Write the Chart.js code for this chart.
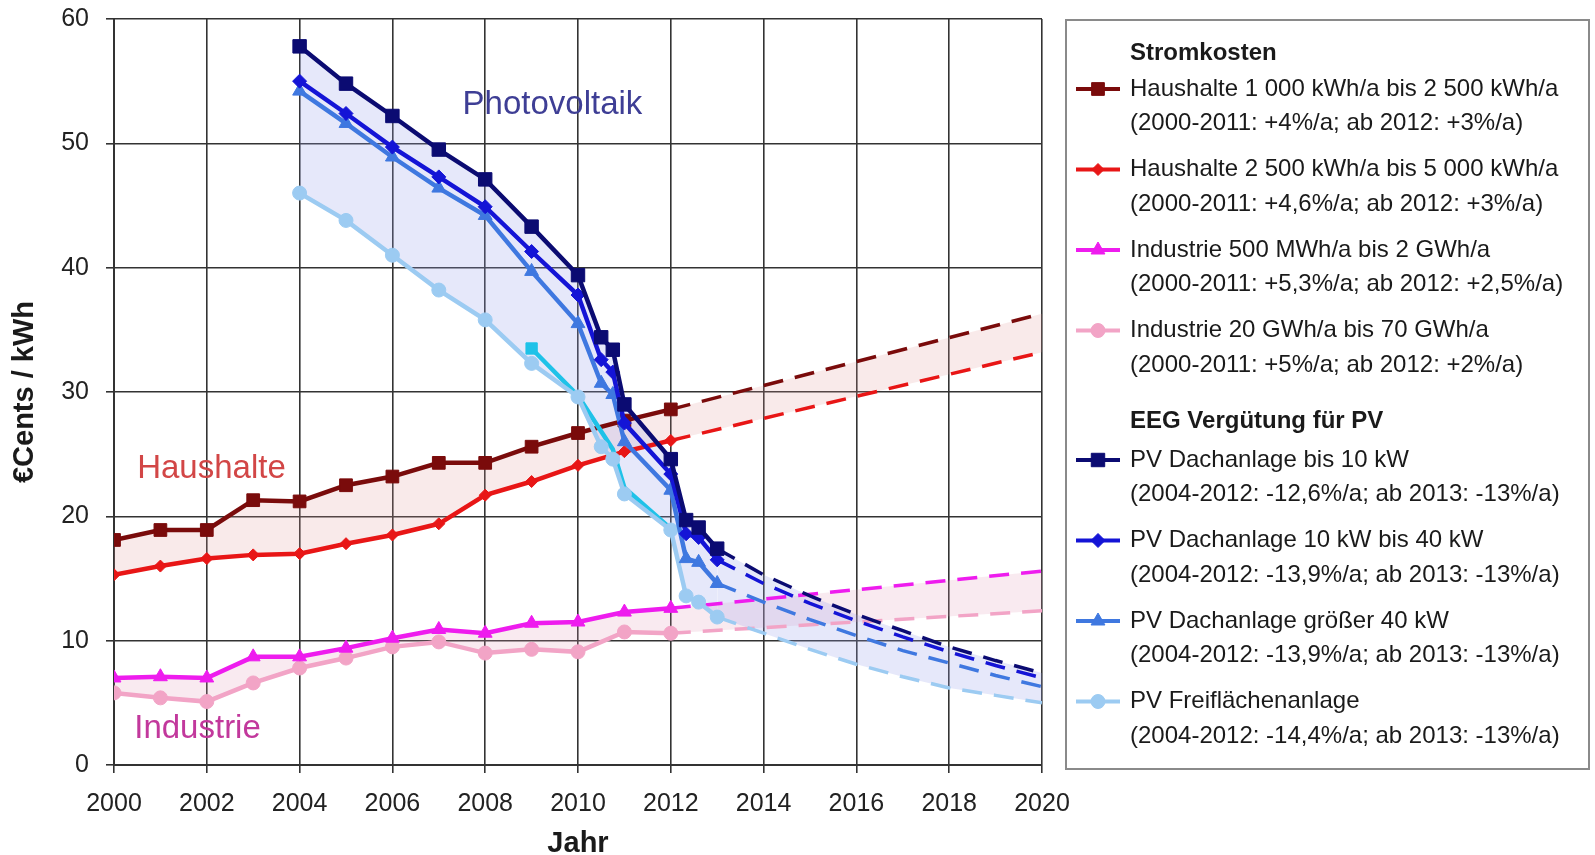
<!DOCTYPE html>
<html>
<head>
<meta charset="utf-8">
<script src="https://cdn.jsdelivr.net/npm/chart.js@4.4.0/dist/chart.umd.min.js"></script>
<style>
  html, body { margin: 0; padding: 0; background: #fff; }
  #wrap { width: 1595px; height: 855px; }
</style>
</head>
<body>
<div id="wrap"><canvas id="strom_chart" width="1595" height="855"></canvas></div>
<script>
// Stromkosten, Istwerte 2000-2012 (€Cents / kWh)
const stromJahre = [2000, 2001, 2002, 2003, 2004, 2005, 2006, 2007, 2008, 2009, 2010, 2011, 2012];
const haushalte1 = [18.1, 18.9, 18.9, 21.3, 21.2, 22.5, 23.2, 24.3, 24.3, 25.6, 26.7, 27.7, 28.6];
const haushalte2 = [15.3, 16.0, 16.6, 16.9, 17.0, 17.8, 18.5, 19.4, 21.7, 22.8, 24.1, 25.2, 26.1];
const industrie1 = [7.0, 7.1, 7.0, 8.7, 8.7, 9.4, 10.2, 10.9, 10.6, 11.4, 11.5, 12.3, 12.6];
const industrie2 = [5.8, 5.4, 5.1, 6.6, 7.8, 8.6, 9.5, 9.9, 9.0, 9.3, 9.1, 10.7, 10.6];

// Stromkosten, Prognose bis 2020
const stromPrognoseJahre = [2020];
const haushalte1Prognose = [36.3];
const haushalte2Prognose = [33.2];
const industrie1Prognose = [15.6];
const industrie2Prognose = [12.4];

// EEG Vergütung PV, 2004-2013
const pvJahre = [2004, 2005, 2006, 2007, 2008, 2009, 2010, 2010.5, 2010.75, 2011, 2012, 2012.33, 2012.6, 2013];
const pvBis10 = [57.8, 54.8, 52.2, 49.5, 47.1, 43.3, 39.4, 34.4, 33.4, 29.0, 24.6, 19.7, 19.1, 17.4];
const pv10bis40 = [55.0, 52.4, 49.7, 47.3, 44.9, 41.3, 37.8, 32.6, 31.6, 27.5, 23.4, 18.6, 18.3, 16.5];
const pvUeber40 = [54.2, 51.6, 48.9, 46.4, 44.2, 39.7, 35.5, 30.7, 29.8, 26.0, 22.1, 16.6, 16.3, 14.6];
const pvFreiflaeche = [46.0, 43.8, 41.0, 38.2, 35.8, 32.3, 29.6, 25.6, 24.6, 21.8, 18.9, 13.6, 13.1, 11.9];

// EEG Vergütung PV, Prognose bis 2020
const pvPrognoseJahre = [2014, 2015, 2016, 2017, 2018, 2019, 2020];
const pvBis10Prognose = [15.3, 13.6, 12.1, 10.8, 9.5, 8.4, 7.4];
const pv10bis40Prognose = [14.6, 13.0, 11.6, 10.3, 9.1, 8.0, 7.0];
const pvUeber40Prognose = [13.1, 11.7, 10.4, 9.2, 8.2, 7.2, 6.3];
const pvFreiflaechePrognose = [10.6, 9.3, 8.1, 7.1, 6.2, 5.6, 5.0];

// Konversionsflächen (ohne Legende)
const konversionJahre = [2009, 2010, 2010.75, 2011, 2012];
const konversion = [33.5, 29.7, 25.4, 22.3, 19.0];

const xTicks = [2000, 2002, 2004, 2006, 2008, 2010, 2012, 2014, 2016, 2018, 2020];
const yTicks = [0, 10, 20, 30, 40, 50, 60];

const legendTitles = ['Stromkosten', 'EEG Vergütung für PV'];
const legendNames = [
    'Haushalte 1 000 kWh/a bis 2 500 kWh/a',
    'Haushalte 2 500 kWh/a bis 5 000 kWh/a',
    'Industrie 500 MWh/a bis 2 GWh/a',
    'Industrie 20 GWh/a bis 70 GWh/a',
    'PV Dachanlage bis 10 kW',
    'PV Dachanlage 10 kW bis 40 kW',
    'PV Dachanlage größer 40 kW',
    'PV Freiflächenanlage'
];
const legendNotes = [
    '(2000-2011: +4%/a; ab 2012: +3%/a)',
    '(2000-2011: +4,6%/a; ab 2012: +3%/a)',
    '(2000-2011: +5,3%/a; ab 2012: +2,5%/a)',
    '(2000-2011: +5%/a; ab 2012: +2%/a)',
    '(2004-2012: -12,6%/a; ab 2013: -13%/a)',
    '(2004-2012: -13,9%/a; ab 2013: -13%/a)',
    '(2004-2012: -13,9%/a; ab 2013: -13%/a)',
    '(2004-2012: -14,4%/a; ab 2013: -13%/a)'
];

const FONT = "'Liberation Sans', Arial, sans-serif";

const styles = {
    haushalte1: { color: '#7a0b0b', pointStyle: 'rect', radius: 9 },
    haushalte2: { color: '#e81616', pointStyle: 'rectRot', radius: 6 },
    industrie1: { color: '#ee1cee', pointStyle: 'triangle', radius: 8 },
    industrie2: { color: '#f2a4c6', pointStyle: 'circle', radius: 7 },
    pvBis10: { color: '#0b0b72', pointStyle: 'rect', radius: 9.5 },
    pv10bis40: { color: '#1414d6', pointStyle: 'rectRot', radius: 7 },
    pvUeber40: { color: '#3f78e0', pointStyle: 'triangle', radius: 8 },
    pvFreiflaeche: { color: '#9ccbf2', pointStyle: 'circle', radius: 7 },
    konversion: { color: '#1fc2e8', pointStyle: 'rect', radius: 8 }
};

const prognoseDash = [20, 12];

function toPoints(xs, ys) {
    return xs.map((x, i) => ({ x: x, y: ys[i] }));
}

function makeDataset(label, style, points, cutoff, fill, fillColor) {
    return {
        label: label,
        data: points,
        borderColor: style.color,
        backgroundColor: fillColor || style.color,
        pointBackgroundColor: style.color,
        pointBorderColor: style.color,
        pointBorderWidth: 1,
        pointStyle: style.pointStyle,
        pointRadius: ctx => (ctx.raw && ctx.raw.x > cutoff) ? 0 : style.radius,
        borderWidth: 4.5,
        fill: fill,
        tension: 0,
        segment: {
            borderDash: ctx => ctx.p0.parsed.x >= cutoff ? prognoseDash : undefined,
            borderWidth: ctx => ctx.p0.parsed.x >= cutoff ? 3.5 : undefined
        }
    };
}

const pvFill = 'rgba(150,160,235,0.24)';
const haushaltFill = 'rgba(225,150,150,0.2)';
const industrieFill = 'rgba(225,150,180,0.2)';

// the first datasets are drawn last, so the PV lines end up on top
const datasets = [
    makeDataset(legendNames[4], styles.pvBis10,
        toPoints(pvJahre.concat(pvPrognoseJahre), pvBis10.concat(pvBis10Prognose)), 2013, 3, pvFill),
    makeDataset(legendNames[5], styles.pv10bis40,
        toPoints(pvJahre.concat(pvPrognoseJahre), pv10bis40.concat(pv10bis40Prognose)), 2013, false),
    makeDataset(legendNames[6], styles.pvUeber40,
        toPoints(pvJahre.concat(pvPrognoseJahre), pvUeber40.concat(pvUeber40Prognose)), 2013, false),
    makeDataset(legendNames[7], styles.pvFreiflaeche,
        toPoints(pvJahre.concat(pvPrognoseJahre), pvFreiflaeche.concat(pvFreiflaechePrognose)), 2013, false),
    makeDataset('Konversionsflächen', styles.konversion,
        toPoints(konversionJahre, konversion), Infinity, false),
    makeDataset(legendNames[0], styles.haushalte1,
        toPoints(stromJahre.concat(stromPrognoseJahre), haushalte1.concat(haushalte1Prognose)), 2012, '+1', haushaltFill),
    makeDataset(legendNames[1], styles.haushalte2,
        toPoints(stromJahre.concat(stromPrognoseJahre), haushalte2.concat(haushalte2Prognose)), 2012, false),
    makeDataset(legendNames[2], styles.industrie1,
        toPoints(stromJahre.concat(stromPrognoseJahre), industrie1.concat(industrie1Prognose)), 2012, '+1', industrieFill),
    makeDataset(legendNames[3], styles.industrie2,
        toPoints(stromJahre.concat(stromPrognoseJahre), industrie2.concat(industrie2Prognose)), 2012, false)
];
// konversion only has a marker at its first point
datasets[4].pointRadius = ctx => (ctx.raw && ctx.raw.x === 2009) ? styles.konversion.radius : 0;

const textLabels = [
    { text: 'Photovoltaik', x: 2009.45, y: 53.1, color: '#3e3e95' },
    { text: 'Haushalte', x: 2002.1, y: 23.8, color: '#d24646' },
    { text: 'Industrie', x: 2001.8, y: 2.9, color: '#c2389c' }
];

const labelPlugin = {
    id: 'labels',
    afterDatasetsDraw: function(chart) {
        const ctx = chart.ctx;
        const xs = chart.scales.x, ys = chart.scales.y;
        ctx.save();
        ctx.font = '33px ' + FONT;
        ctx.textAlign = 'center';
        ctx.textBaseline = 'middle';
        textLabels.forEach(l => {
            ctx.fillStyle = l.color;
            ctx.fillText(l.text, xs.getPixelForValue(l.x), ys.getPixelForValue(l.y));
        });
        ctx.restore();
    }
};

const legendOrder = ['haushalte1', 'haushalte2', 'industrie1', 'industrie2',
                     'pvBis10', 'pv10bis40', 'pvUeber40', 'pvFreiflaeche'];

const legendPlugin = {
    id: 'sideLegend',
    afterDraw: function(chart) {
        const ctx = chart.ctx;
        ctx.save();
        ctx.strokeStyle = '#8a8a8a';
        ctx.lineWidth = 2;
        ctx.strokeRect(1066, 20, 523, 749);

        ctx.textAlign = 'left';
        ctx.textBaseline = 'middle';
        ctx.fillStyle = '#1a1a1a';
        ctx.font = 'bold 24px ' + FONT;
        ctx.fillText(legendTitles[0], 1130, 53);
        ctx.fillText(legendTitles[1], 1130, 421);

        legendOrder.forEach((key, i) => {
            const group = i < 4 ? 0 : 1;
            const row = i % 4;
            const y = (group === 0 ? 89 : 460) + row * 80.5;
            const st = styles[key];
            ctx.strokeStyle = st.color;
            ctx.lineWidth = 4;
            ctx.beginPath();
            ctx.moveTo(1076, y);
            ctx.lineTo(1120, y);
            ctx.stroke();
            ctx.fillStyle = st.color;
            ctx.lineWidth = 1;
            Chart.helpers.drawPoint(ctx, {
                pointStyle: st.pointStyle, radius: st.radius, rotation: 0, borderWidth: 1
            }, 1098, y);
            ctx.fillStyle = '#1a1a1a';
            ctx.font = '24px ' + FONT;
            ctx.fillText(legendNames[i], 1130, y);
            ctx.fillText(legendNotes[i], 1130, y + 34.5);
        });
        ctx.restore();
    }
};

const chart = new Chart(document.getElementById('strom_chart').getContext('2d'), {
    type: 'line',
    data: { datasets: datasets },
    options: {
        responsive: false,
        animation: false,
        layout: { padding: { left: 0, right: 553, top: 19, bottom: 0 } },
        plugins: {
            legend: { display: false },
            tooltip: { enabled: false },
            filler: { drawTime: 'beforeDatasetsDraw' }
        },
        scales: {
            x: {
                type: 'linear',
                min: 2000,
                max: 2020,
                afterBuildTicks: scale => { scale.ticks = xTicks.map(v => ({ value: v })); },
                afterFit: scale => { scale.height = 90; },
                ticks: {
                    callback: v => String(v),
                    color: '#222',
                    padding: 16,
                    maxRotation: 0,
                    font: { family: FONT, size: 25 }
                },
                grid: { color: '#333', lineWidth: 1.6, tickLength: 8 },
                border: { color: '#333', width: 2 },
                title: {
                    display: true,
                    text: 'Jahr',
                    color: '#1a1a1a',
                    padding: { top: 0, bottom: -2 },
                    font: { family: FONT, size: 29, weight: 'bold', lineHeight: 0.9 }
                }
            },
            y: {
                min: 0,
                max: 60,
                afterBuildTicks: scale => { scale.ticks = yTicks.map(v => ({ value: v })); },
                afterFit: scale => { scale.width = 114; scale.paddingTop = 0; },
                ticks: {
                    color: '#222',
                    padding: 17,
                    font: { family: FONT, size: 25 }
                },
                grid: { color: '#333', lineWidth: 1.6, tickLength: 8 },
                border: { color: '#333', width: 2 },
                title: {
                    display: true,
                    text: '€Cents / kWh',
                    color: '#1a1a1a',
                    padding: { top: 8, bottom: 0 },
                    font: { family: FONT, size: 29, weight: 'bold', lineHeight: 1.2 }
                }
            }
        }
    },
    plugins: [labelPlugin, legendPlugin]
});
</script>
</body>
</html>
